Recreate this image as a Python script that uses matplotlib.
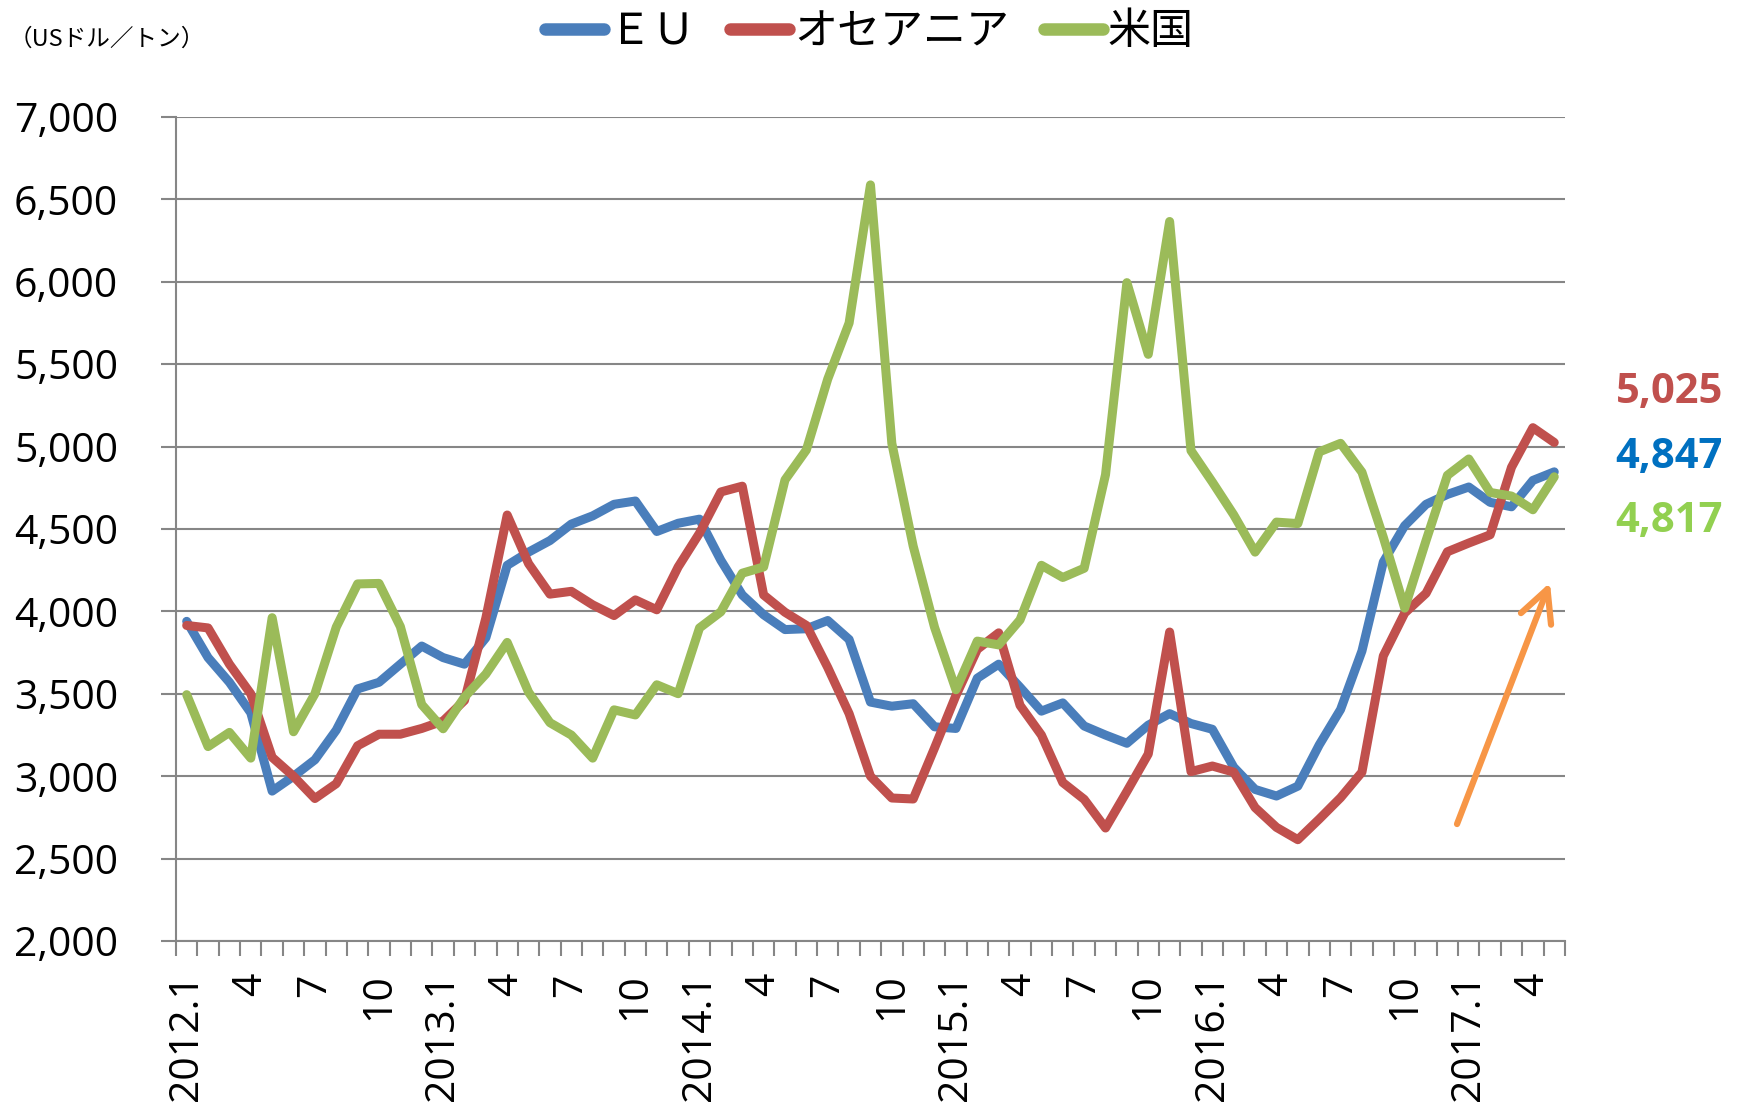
import numpy as np
import matplotlib
matplotlib.use("Agg")
import matplotlib.pyplot as plt

plt.rcParams['font.family'] = ['Open Sans', 'Noto Sans CJK JP', 'DejaVu Sans']

# monthly prices, 2012.1 - 2017.5 (US$/t)
eu = [3940, 3720, 3570, 3385, 2910, 3000, 3100, 3280, 3530, 3570, 3680, 3790,
      3720, 3680, 3840, 4280, 4360, 4430, 4530, 4580, 4650, 4670, 4485, 4535,
      4560, 4310, 4100, 3980, 3890, 3895, 3945, 3830, 3450, 3425, 3440, 3300,
      3290, 3595, 3680, 3540, 3395, 3445, 3305, 3250, 3200, 3310, 3380, 3320,
      3285, 3055, 2920, 2880, 2940, 3190, 3405, 3760, 4300, 4520, 4650, 4710,
      4755, 4662, 4635, 4795, 4847]
oceania = [3915, 3900, 3680, 3500, 3115, 3000, 2865, 2955, 3185, 3255, 3255, 3290,
           3335, 3460, 3960, 4585, 4290, 4105, 4122, 4040, 3975, 4070, 4010, 4270,
           4475, 4725, 4760, 4100, 3995, 3915, 3660, 3380, 3000, 2868, 2862, 3172,
           3490, 3770, 3870, 3430, 3250, 2962, 2860, 2686, 2908, 3135, 3875, 3028,
           3062, 3025, 2810, 2690, 2615, 2740, 2870, 3025, 3730, 3990, 4110, 4362,
           4415, 4465, 4875, 5115, 5025]
usa = [3495, 3180, 3266, 3110, 3962, 3270, 3500, 3905, 4167, 4170, 3908, 3435,
       3288, 3480, 3620, 3812, 3510, 3325, 3250, 3110, 3403, 3372, 3555, 3501,
       3900, 3998, 4232, 4270, 4798, 4980, 5410, 5750, 6588, 5020, 4396, 3903,
       3525, 3820, 3797, 3949, 4280, 4206, 4262, 4830, 5995, 5560, 6366, 4976,
       4785, 4586, 4360, 4542, 4533, 4968, 5020, 4845, 4450, 4020, 4430, 4826,
       4925, 4722, 4700, 4617, 4817]

names = ['ＥＵ', 'オセアニア', '米国']
line_colors = ['#4A7EBB', '#C0504D', '#9BBB59']
label_colors = ['#0070C0', '#C0504D', '#92D050']

tick_labels = ['2012.1', '4', '7', '10', '2013.1', '4', '7', '10',
               '2014.1', '4', '7', '10', '2015.1', '4', '7', '10',
               '2016.1', '4', '7', '10', '2017.1', '4']
y_ticks = [2000, 2500, 3000, 3500, 4000, 4500, 5000, 5500, 6000, 6500, 7000]

# arrow (start/end in index, value)
arrow_start = (59.45, 2710)
arrow_end = (63.8, 4175)

fig = plt.figure(figsize=(17.46, 11.07), dpi=100)
ax = fig.add_axes([0.1008, 0.1499, 0.7955, 0.7444])

x = np.arange(len(eu))
grey = '#868686'
for series, name, c in zip([eu, oceania, usa], names, line_colors):
    ax.plot(x, series, color=c, lw=6.5, label=name,
            solid_joinstyle='round', solid_capstyle='round')

ax.set_xlim(-0.5, len(eu) - 0.5)
ax.set_ylim(2000, 7000)
ax.set_yticks(y_ticks)
ax.set_yticklabels([f'{v:,}' for v in y_ticks], fontsize=29.5)
ax.yaxis.grid(True, color=grey, lw=1.5)
ax.set_axisbelow(True)

ax.set_xticks(x[::3])
ax.set_xticklabels(tick_labels, rotation=90, fontsize=29.5, va='top')
ax.set_xticks(np.arange(-0.5, len(eu)), minor=True)
ax.tick_params(axis='x', which='major', length=0, pad=23)
ax.tick_params(axis='x', which='minor', length=10.5, width=1.5, color=grey, direction='out')
ax.tick_params(axis='y', length=10.5, width=1.5, color=grey, pad=31)

for s in ['top', 'right']:
    ax.spines[s].set_visible(False)
for s in ['left', 'bottom']:
    ax.spines[s].set_color(grey)
    ax.spines[s].set_linewidth(1.5)

ax.annotate('', xy=arrow_end, xytext=arrow_start,
            arrowprops=dict(arrowstyle='->,head_length=1.15,head_width=0.58',
                            color='#F79646', lw=4.5, mutation_scale=20,
                            shrinkA=0, shrinkB=0))

# last values on the right
for series, c, yy in zip([oceania, eu, usa], [label_colors[1], label_colors[0], label_colors[2]],
                         [0.645, 0.5863, 0.5285]):
    fig.text(0.9868, yy, f'{series[-1]:,}', color=c, fontsize=30, fontweight='bold',
             ha='right', va='center')

fig.text(0.005, 0.965, '（USドル／トン）', fontsize=17,
         family=['Noto Sans CJK JP', 'DejaVu Sans'], ha='left', va='center')

leg = fig.legend(loc='center', bbox_to_anchor=(0.498, 0.971), ncol=3, frameon=False,
                 prop={'family': ['Noto Sans CJK JP', 'DejaVu Sans'], 'size': 31},
                 handlelength=1.37, handletextpad=0.12, columnspacing=0.8,
                 borderpad=0.1)
for h in leg.get_lines():
    h.set_linewidth(9)
    h.set_solid_capstyle('round')

fig.savefig('out.png', dpi=100)
